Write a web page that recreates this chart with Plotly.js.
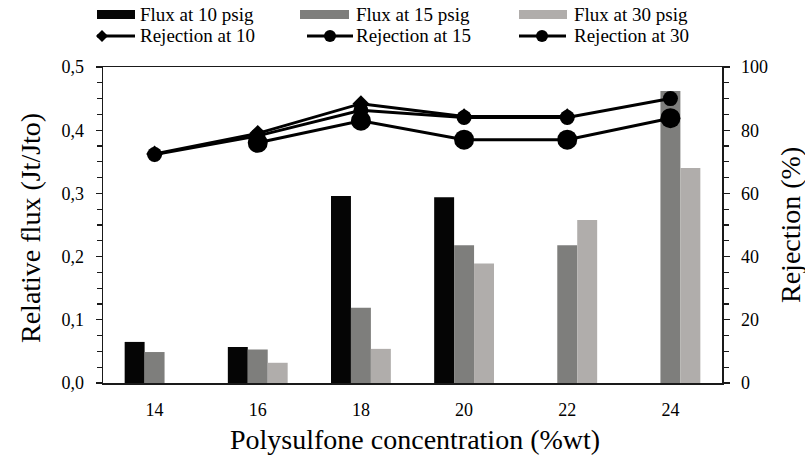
<!DOCTYPE html>
<html>
<head>
<meta charset="utf-8">
<script src="https://cdn.plot.ly/plotly-3.0.1.min.js"></script>
<style>html,body{margin:0;padding:0;background:#fff;}#chart{width:805px;height:458px;}</style>
</head>
<body>
<div id="chart"></div>
<script>
// ---- data ----
const categories = ['14', '16', '18', '20', '22', '24'];
const flux10 = [0.065, 0.057, 0.296, 0.294, null, null];
const flux15 = [0.049, 0.053, 0.119, 0.218, 0.218, 0.462];
const flux30 = [null, 0.032, 0.054, 0.189, 0.258, 0.340];
const rej10 = [72.5, 79.0, 88.4, 84.3, 84.3, null];
const rej15 = [72.3, 78.2, 86.3, 84.0, 84.0, 90.0];
const rej30 = [null, 76.0, 83.0, 77.0, 77.0, 83.8];
const fluxNames = ['Flux at 10 psig', 'Flux at 15 psig', 'Flux at 30 psig'];
const rejNames = ['Rejection at 10', 'Rejection at 15', 'Rejection at 30'];
const xTitle = 'Polysulfone concentration (%wt)';
const yTitle = 'Relative flux (Jt/Jto)';
const y2Title = 'Rejection (%)';

// ---- styles ----
const FONT = '"Liberation Serif", "Times New Roman", "DejaVu Serif", serif';
const barColors = ['#050505', '#7e7e7c', '#b0adab'];
const markerSyms = ['diamond', 'circle', 'circle'];
const markerSizes = [13, 15, 20];

const fluxSeries = [flux10, flux15, flux30];
const rejSeries = [rej10, rej15, rej30];

const traces = [];
fluxSeries.forEach((vals, i) => {
  traces.push({
    type: 'bar', x: categories, y: vals, name: fluxNames[i],
    marker: {color: barColors[i], line: {width: 0}},
    yaxis: 'y', showlegend: false, hoverinfo: 'skip'
  });
});
[2, 1, 0].forEach(i => {
  traces.push({
    type: 'scatter', mode: 'lines+markers', x: categories, y: rejSeries[i], name: rejNames[i],
    line: {color: '#000', width: 3}, connectgaps: false,
    marker: {symbol: markerSyms[i], size: markerSizes[i], color: '#000'},
    yaxis: 'y2', showlegend: false, hoverinfo: 'skip'
  });
});

// plot area in pixels
const L = 103, R = 722, T = 67, B = 383;
const px = v => (v - L) / (R - L);
const py = v => (B - v) / (B - T);

const shapes = [];
const annotations = [];
// custom legend
const swatchX = [[97, 135], [300, 349], [519, 567]];
const textX = [138, 354, 572];
const row1 = 14, row2 = 36;
fluxNames.forEach((n, i) => {
  shapes.push({type: 'rect', xref: 'paper', yref: 'paper',
    x0: px(swatchX[i][0]), x1: px(swatchX[i][1]), y0: py(row1 + 5), y1: py(row1 - 4),
    fillcolor: barColors[i], line: {width: 0}});
  annotations.push({xref: 'paper', yref: 'paper', x: px(textX[i]), y: py(row1), xanchor: 'left', yanchor: 'middle',
    text: n, showarrow: false, font: {family: FONT, size: 19, color: '#000'}});
});
const lineX = [[97, 135], [307, 353], [519, 566]];
const markX = [102, 330, 542];
rejNames.forEach((n, i) => {
  shapes.push({type: 'line', xref: 'paper', yref: 'paper',
    x0: px(lineX[i][0]), x1: px(lineX[i][1]), y0: py(row2), y1: py(row2),
    line: {color: '#000', width: 3}});
  if (markerSyms[i] === 'diamond') {
    const cx = markX[i], cy = row2, r = 6;
    shapes.push({type: 'path', xref: 'paper', yref: 'paper',
      path: `M ${px(cx - r)} ${py(cy)} L ${px(cx)} ${py(cy - r)} L ${px(cx + r)} ${py(cy)} L ${px(cx)} ${py(cy + r)} Z`,
      fillcolor: '#000', line: {width: 0}});
  } else {
    const r = 6;
    shapes.push({type: 'circle', xref: 'paper', yref: 'paper',
      x0: px(markX[i] - r), x1: px(markX[i] + r), y0: py(row2 + r), y1: py(row2 - r),
      fillcolor: '#000', line: {width: 0}});
  }
  annotations.push({xref: 'paper', yref: 'paper', x: px(textX[i]), y: py(row2), xanchor: 'left', yanchor: 'middle',
    text: n, showarrow: false, font: {family: FONT, size: 19, color: '#000'}});
});
// axis titles
annotations.push({xref: 'paper', yref: 'paper', x: px(415), y: py(439), xanchor: 'center', yanchor: 'middle',
  text: xTitle, showarrow: false, font: {family: FONT, size: 28, color: '#000'}});
annotations.push({xref: 'paper', yref: 'paper', x: px(30), y: py(228), xanchor: 'center', yanchor: 'middle', textangle: -90,
  text: yTitle, showarrow: false, font: {family: FONT, size: 28, color: '#000'}});
annotations.push({xref: 'paper', yref: 'paper', x: px(790), y: py(225), xanchor: 'center', yanchor: 'middle', textangle: -90,
  text: y2Title, showarrow: false, font: {family: FONT, size: 28, color: '#000'}});

const axisLine = {showline: true, linecolor: '#1a1a1a', linewidth: 1.5, showgrid: false, zeroline: false};
const tickFont = {family: FONT, size: 18, color: '#000'};

const layout = {
  width: 805, height: 458,
  margin: {l: L, r: 805 - R, t: T, b: 458 - B, pad: 0},
  paper_bgcolor: '#fff', plot_bgcolor: '#fff',
  separators: ', ',
  barmode: 'group', bargap: 0.42, bargroupgap: 0,
  showlegend: false,
  font: {family: FONT, color: '#000'},
  xaxis: Object.assign({}, axisLine, {
    type: 'category', range: [-0.5, 5.5], mirror: true, ticks: '',
    tickfont: tickFont, ticklabelstandoff: 10
  }),
  yaxis: Object.assign({}, axisLine, {
    range: [0, 0.5], dtick: 0.1, tick0: 0, tickformat: '.1f',
    ticks: 'outside', ticklen: 6, tickwidth: 1.2, tickcolor: '#1a1a1a',
    minor: {dtick: 0.025, ticks: 'outside', ticklen: 5, tickwidth: 1.2, tickcolor: '#1a1a1a'},
    tickfont: tickFont, ticklabelstandoff: 8
  }),
  yaxis2: Object.assign({}, axisLine, {
    overlaying: 'y', side: 'right', range: [0, 100], dtick: 20, tick0: 0,
    ticks: 'outside', ticklen: 6, tickwidth: 1.2, tickcolor: '#1a1a1a',
    minor: {dtick: 5, ticks: 'outside', ticklen: 5, tickwidth: 1.2, tickcolor: '#1a1a1a'},
    tickfont: tickFont, ticklabelstandoff: 8
  }),
  shapes: shapes,
  annotations: annotations
};

Plotly.newPlot('chart', traces, layout, {staticPlot: true, displayModeBar: false});
</script>
</body>
</html>
